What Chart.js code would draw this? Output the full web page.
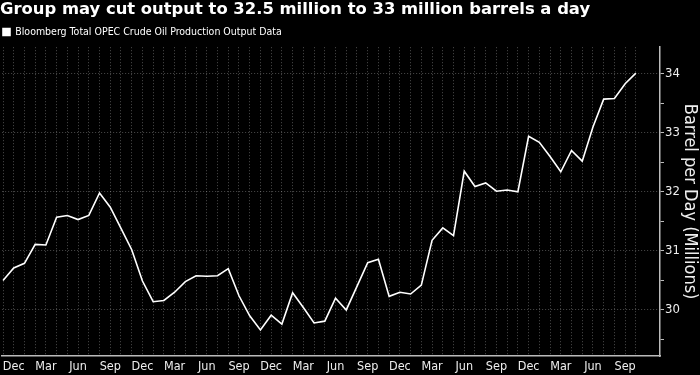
<!DOCTYPE html>
<html>
<head>
<meta charset="utf-8">
<script src="https://cdn.jsdelivr.net/npm/chart.js@4/dist/chart.umd.min.js"></script>
<style>
  html, body { margin: 0; padding: 0; background: #000; }
  #wrap { position: relative; width: 700px; height: 375px; }
</style>
</head>
<body>
<div id="wrap"><canvas id="opecChart"></canvas></div>
<script>
// monthly output, Nov of first year to Oct five years later (millions of barrels a day)
const monthNames = ['Nov', 'Dec', 'Jan', 'Feb', 'Mar', 'Apr', 'May', 'Jun', 'Jul', 'Aug', 'Sep', 'Oct'];
const months = [];
for (let i = 0; i < 60; i++) months.push(monthNames[i % 12]);
const shownMonths = ['Dec', 'Mar', 'Jun', 'Sep'];

const output = [
    30.50, 30.71, 30.79, 31.11, 31.10, 31.57, 31.60, 31.53, 31.60, 31.98, 31.74, 31.38,
    31.02, 30.49, 30.14, 30.16, 30.30, 30.48, 30.58, 30.57, 30.58, 30.70, 30.24, 29.90,
    29.66, 29.91, 29.76, 30.29, 30.04, 29.78, 29.81, 30.20, 30.00, 30.40, 30.80, 30.86,
    30.23, 30.30, 30.27, 30.42, 31.18, 31.39, 31.26, 32.35, 32.09, 32.15, 32.01, 32.03,
    32.00, 32.94, 32.84, 32.60, 32.34, 32.70, 32.52, 33.10, 33.57, 33.58, 33.83, 34.01
];
const yTicks = [29.5, 30, 30.5, 31, 31.5, 32, 32.5, 33, 33.5, 34];

const titleText = 'Group may cut output to 32.5 million to 33 million barrels a day';
const seriesName = 'Bloomberg Total OPEC Crude Oil Production Output Data';
const axisTitle = 'Barrel per Day (Millions)';

const smallFont = "'DejaVu Sans Condensed', 'Liberation Sans Narrow', 'DejaVu Sans', sans-serif";
const gridColor = 'rgba(200,200,200,0.38)';

let config = {
    type: 'line',
    data: {
        datasets: [{
            label: seriesName,
            data: output.map((v, i) => ({ x: i, y: v })),
            borderColor: '#fff',
            backgroundColor: '#fff',
            borderWidth: 1.6,
            pointRadius: 0,
            tension: 0
        }]
    },
    options: {
        responsive: true,
        maintainAspectRatio: false,
        animation: false,
        layout: { padding: 0 },
        plugins: {
            title: {
                display: true,
                text: titleText,
                align: 'start',
                color: '#fff',
                font: { family: "'DejaVu Sans', sans-serif", size: 16.4, weight: 'bold' },
                padding: { top: 0, bottom: 4 }
            },
            legend: {
                align: 'start',
                labels: {
                    color: '#fff',
                    boxWidth: 7,
                    boxHeight: 7,
                    padding: 3,
                    font: { family: smallFont, size: 10.5 }
                }
            },
            tooltip: { enabled: false }
        },
        scales: {
            x: {
                type: 'linear',
                min: -0.08,
                max: 61.25,
                afterBuildTicks: axis => { axis.ticks = months.map((m, i) => ({ value: i })); },
                afterFit: scale => { scale.height = 19; },
                grid: { color: gridColor, drawTicks: false },
                border: { display: true, color: '#bbb', width: 1.5, dash: [1, 2] },
                ticks: {
                    autoSkip: false,
                    maxRotation: 0,
                    padding: 3,
                    color: '#eee',
                    font: { family: smallFont, size: 12.5 },
                    callback: value => shownMonths.includes(months[value]) ? months[value] : ''
                }
            },
            y: {
                position: 'right',
                min: 29.22,
                max: 34.45,
                afterBuildTicks: axis => { axis.ticks = yTicks.map(v => ({ value: v })); },
                afterFit: scale => { scale.width = 40; },
                grid: {
                    color: ctx => Number.isInteger(ctx.tick.value) ? gridColor : 'transparent',
                    tickColor: '#bbb',
                    tickLength: 4
                },
                border: { display: true, color: '#bbb', width: 1.5, dash: [1, 2] },
                ticks: {
                    padding: 1,
                    color: '#eee',
                    font: { family: smallFont, size: 13 },
                    callback: value => Number.isInteger(value) ? value : ''
                },
                title: {
                    display: true,
                    text: axisTitle,
                    color: '#eee',
                    padding: 0,
                    font: { family: smallFont, size: 18 }
                }
            }
        }
    }
};

new Chart(document.getElementById('opecChart').getContext('2d'), config);
</script>
</body>
</html>
